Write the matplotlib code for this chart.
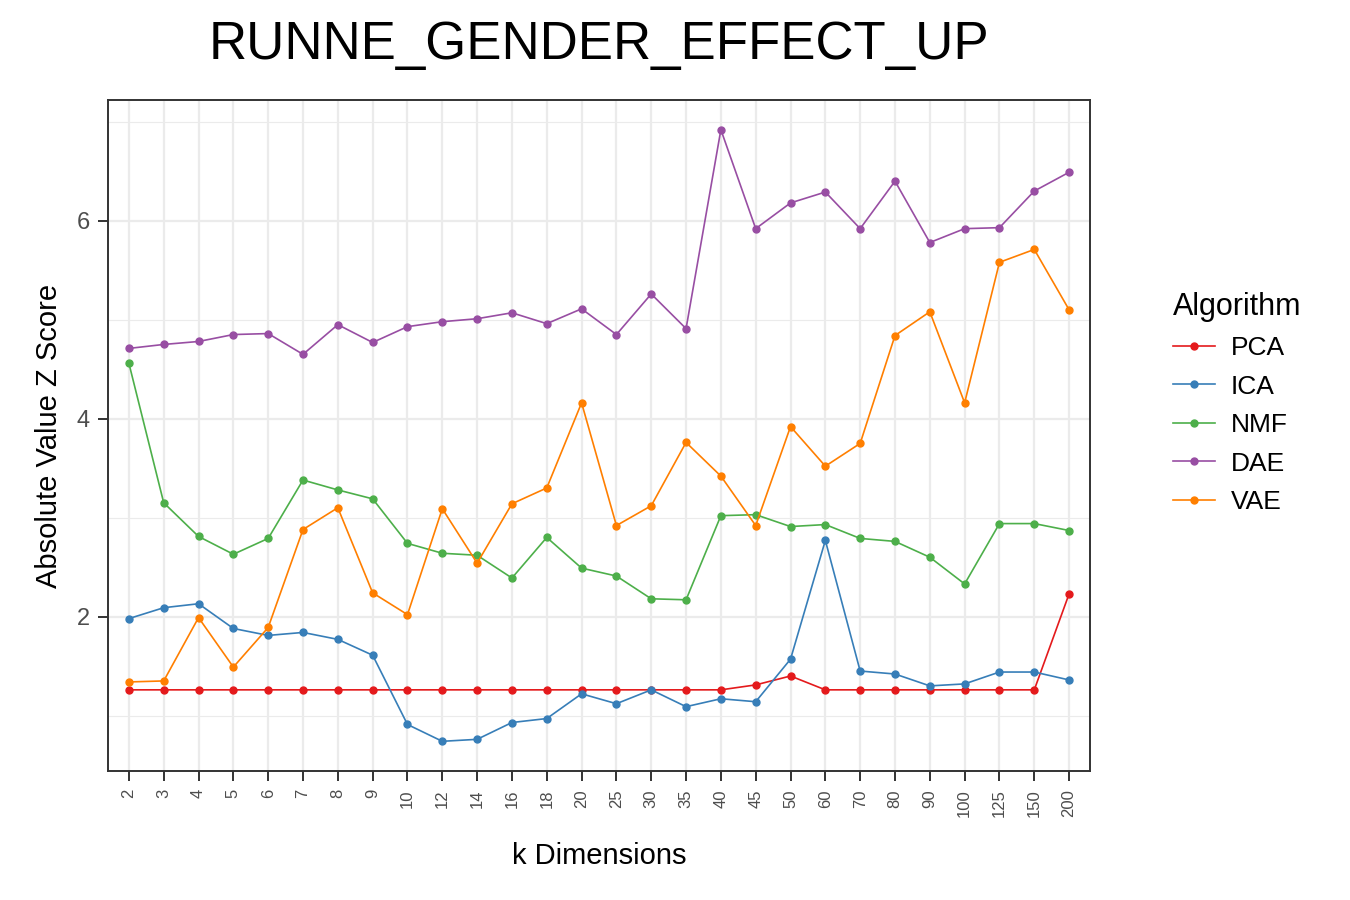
import matplotlib.pyplot as plt
import numpy as np

dims = ["2", "3", "4", "5", "6", "7", "8", "9", "10", "12", "14", "16", "18", "20",
        "25", "30", "35", "40", "45", "50", "60", "70", "80", "90", "100", "125", "150", "200"]
pca = [1.26] * 18 + [1.31, 1.40] + [1.26] * 7 + [2.23]
ica = [1.98, 2.09, 2.13, 1.88, 1.81, 1.84, 1.77, 1.61, 0.91, 0.74, 0.76, 0.93, 0.97, 1.22,
       1.12, 1.26, 1.09, 1.17, 1.14, 1.57, 2.77, 1.45, 1.42, 1.30, 1.32, 1.44, 1.44, 1.36]
nmf = [4.56, 3.15, 2.81, 2.63, 2.79, 3.38, 3.28, 3.19, 2.74, 2.64, 2.62, 2.39, 2.80, 2.49,
       2.41, 2.18, 2.17, 3.02, 3.03, 2.91, 2.93, 2.79, 2.76, 2.60, 2.33, 2.94, 2.94, 2.87]
dae = [4.71, 4.75, 4.78, 4.85, 4.86, 4.65, 4.95, 4.77, 4.93, 4.98, 5.01, 5.07, 4.96, 5.11,
       4.85, 5.26, 4.91, 6.92, 5.92, 6.18, 6.29, 5.92, 6.40, 5.78, 5.92, 5.93, 6.30, 6.49]
vae = [1.34, 1.35, 1.99, 1.49, 1.89, 2.88, 3.10, 2.24, 2.02, 3.09, 2.54, 3.14, 3.30, 4.16,
       2.92, 3.12, 3.76, 3.42, 2.92, 3.92, 3.52, 3.75, 4.84, 5.08, 4.16, 5.58, 5.71, 5.10]

series = [("PCA", pca, "#e41a1c"), ("ICA", ica, "#377eb8"), ("NMF", nmf, "#4daf4a"),
          ("DAE", dae, "#984ea3"), ("VAE", vae, "#ff7f00")]

plt.rcParams["font.family"] = ["Liberation Sans", "DejaVu Sans"]
fig = plt.figure(figsize=(13.5, 9), dpi=100)
ax = fig.add_axes([108 / 1350, 1 - 771 / 900, 982 / 1350, 671 / 900])
x = np.arange(len(dims))
for name, vals, col in series:
    ax.plot(x, vals, "-o", color=col, lw=1.2, ms=5, label=name)

ax.set_xlim(-0.6, len(dims) - 0.4)
ax.set_ylim(0.44, 7.22)
ax.set_xticks(x)
ax.set_xticklabels(dims, rotation=90, fontsize=12, color="#4d4d4d")
ax.set_yticks([2, 4, 6])
ax.set_yticks([1, 3, 5, 7], minor=True)
ax.tick_params(axis="y", which="major", labelsize=17, labelcolor="#4d4d4d")
ax.tick_params(which="minor", length=0)
ax.tick_params(which="major", length=7, width=1.4, color="#333333", pad=6)
ax.grid(True, which="major", color="#ebebeb", lw=1.6)
ax.grid(True, which="minor", axis="y", color="#ebebeb", lw=0.8)
ax.set_axisbelow(True)
for s in ax.spines.values():
    s.set_color("#333333")
    s.set_linewidth(1.4)
ax.set_xlabel("k Dimensions", fontsize=21, labelpad=18)
ax.set_ylabel("Absolute Value Z Score", fontsize=21, labelpad=10)
fig.text(599 / 1350, 1 - 45 / 900, "RUNNE_GENDER_EFFECT_UP", fontsize=38,
         ha="center", va="center")
leg = ax.legend(title="Algorithm", loc="upper left", bbox_to_anchor=(1.06, 0.75),
                frameon=False, fontsize=19, title_fontsize=22, handlelength=1.6,
                labelspacing=0.55, handletextpad=0.6)
leg._legend_box.align = "left"
fig.savefig("out.png", dpi=100)
